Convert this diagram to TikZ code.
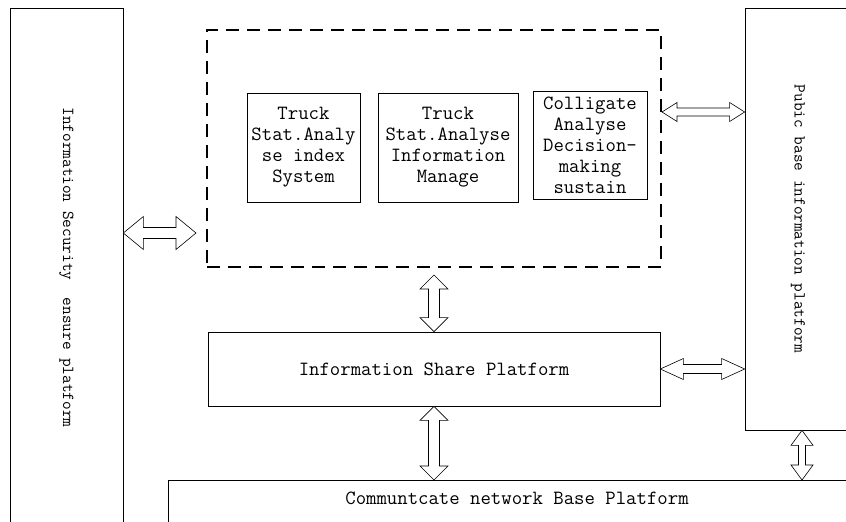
\documentclass[tikz,border=0pt]{standalone}
\usepackage{fontspec}
\usepackage{graphicx}
\usetikzlibrary{calc}
\tikzset{
  box/.style={draw, line width=0.7pt, inner sep=0pt, align=center,
    font=\ttfamily\fontsize{20.2}{21}\selectfont},
  side/.style={box, font=\ttfamily\fontsize{16.8}{18}\selectfont},
  dashbox/.style={draw, line width=2pt, dash pattern=on 13pt off 8pt},
  dbl/.style n args={3}{draw, fill=white, line width=0.6pt, to path={
    let \p1=(\tikztostart), \p2=(\tikztotarget), \n1={atan2(\y2-\y1,\x2-\x1)} in
    (\p1) -- ($(\p1)+(\n1:#3pt)+(\n1+90:#1pt)$) -- ($(\p1)+(\n1:#3pt)+(\n1+90:#2pt)$)
    -- ($(\p2)+(\n1:-#3pt)+(\n1+90:#2pt)$) -- ($(\p2)+(\n1:-#3pt)+(\n1+90:#1pt)$)
    -- (\p2) -- ($(\p2)+(\n1:-#3pt)+(\n1-90:#1pt)$) -- ($(\p2)+(\n1:-#3pt)+(\n1-90:#2pt)$)
    -- ($(\p1)+(\n1:#3pt)+(\n1-90:#2pt)$) -- ($(\p1)+(\n1:#3pt)+(\n1-90:#1pt)$) -- cycle}}
}
\begin{document}
\begin{tikzpicture}[x=1pt,y=-1pt]
  \useasboundingbox (0,0) rectangle (846,522);
  \clip (0,0) rectangle (846,522);
  \node[side, minimum width=113, minimum height=519] (sec) at (66.5,267.5)
    {\rotatebox{-90}{Information Security\ \ ensure platform}};
  \node[side, minimum width=106, minimum height=422] (pub) at (798,219)
    {\rotatebox{-90}{Pubic base information platform}};
  \node[dashbox, minimum width=454, minimum height=237] (app) at (434,148.5) {};
  \node[box, minimum width=113, minimum height=109] (idx) at (303.5,147.5)
    {Truck\\Stat.Analy\\se index\\System};
  \node[box, minimum width=140, minimum height=109] (mgr) at (448,147.5)
    {Truck\\Stat.Analyse\\Information\\Manage};
  \node[box, minimum width=114, minimum height=108] (dec) at (590,145)
    {Colligate\\Analyse\\Decision-\\making\\sustain};
  \node[box, minimum width=452, minimum height=74] (share) at (434,369)
    {Information Share Platform};
  \node[box, anchor=north, minimum width=698, text height=24pt, text depth=40pt] (comm)
    at (517,480) {Communtcate network Base Platform};
  \draw[dbl={16.5}{5.5}{20}] (sec.east |- 0,233) to ([xshift=-10pt]app.west |- 0,233);
  \draw[dbl={9.5}{4}{15}] (app.east |- 0,112) to (pub.west |- 0,112);
  \draw[dbl={10.5}{4.5}{23}] (share.east) to (pub.west |- share.east);
  \draw[dbl={14}{5.5}{14}] ([yshift=-7pt]app.south -| share.north) to (share.north);
  \draw[dbl={14}{5.5}{14}] (share.south) to (comm.north -| share.south);
  \draw[dbl={11}{3.5}{15}] ([xshift=4pt]pub.south) to ([xshift=4pt]pub.south |- comm.north);
\end{tikzpicture}
\end{document}
